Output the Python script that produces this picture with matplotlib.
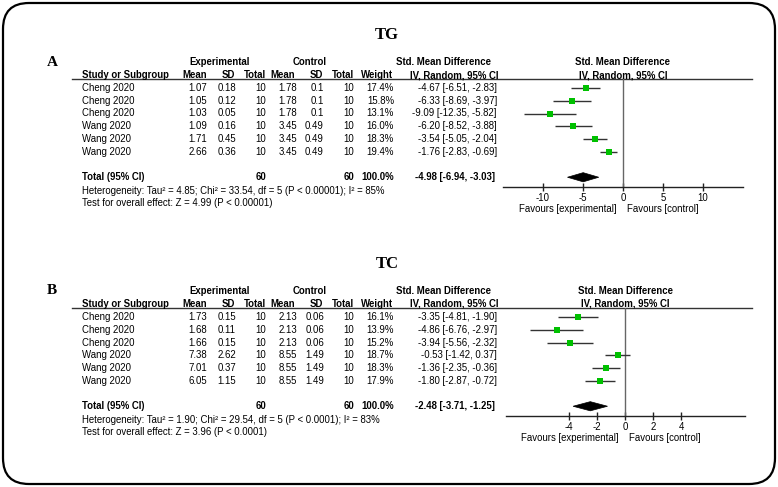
import numpy as np
import matplotlib.pyplot as plt
from matplotlib.patches import FancyBboxPatch, Polygon

# ---- data, panel A (TG) ----
studies = ["Cheng 2020", "Cheng 2020", "Cheng 2020", "Wang 2020", "Wang 2020", "Wang 2020"]
n_exp = [10, 10, 10, 10, 10, 10]
n_ctl = [10, 10, 10, 10, 10, 10]

tg_exp_mean = [1.07, 1.05, 1.03, 1.09, 1.71, 2.66]
tg_exp_sd = [0.18, 0.12, 0.05, 0.16, 0.45, 0.36]
tg_ctl_mean = [1.78, 1.78, 1.78, 3.45, 3.45, 3.45]
tg_ctl_sd = [0.1, 0.1, 0.1, 0.49, 0.49, 0.49]
tg_weight = [17.4, 15.8, 13.1, 16.0, 18.3, 19.4]
tg_smd = [-4.67, -6.33, -9.09, -6.20, -3.54, -1.76]
tg_lo = [-6.51, -8.69, -12.35, -8.52, -5.05, -2.83]
tg_hi = [-2.83, -3.97, -5.82, -3.88, -2.04, -0.69]
tg_total = [-4.98, -6.94, -3.03]
tg_het = "Heterogeneity: Tau² = 4.85; Chi² = 33.54, df = 5 (P < 0.00001); I² = 85%"
tg_test = "Test for overall effect: Z = 4.99 (P < 0.00001)"
tg_ticks = [-10, -5, 0, 5, 10]

# ---- data, panel B (TC) ----
tc_exp_mean = [1.73, 1.68, 1.66, 7.38, 7.01, 6.05]
tc_exp_sd = [0.15, 0.11, 0.15, 2.62, 0.37, 1.15]
tc_ctl_mean = [2.13, 2.13, 2.13, 8.55, 8.55, 8.55]
tc_ctl_sd = [0.06, 0.06, 0.06, 1.49, 1.49, 1.49]
tc_weight = [16.1, 13.9, 15.2, 18.7, 18.3, 17.9]
tc_smd = [-3.35, -4.86, -3.94, -0.53, -1.36, -1.80]
tc_lo = [-4.81, -6.76, -5.56, -1.42, -2.35, -2.87]
tc_hi = [-1.90, -2.97, -2.32, 0.37, -0.36, -0.72]
tc_total = [-2.48, -3.71, -1.25]
tc_het = "Heterogeneity: Tau² = 1.90; Chi² = 29.54, df = 5 (P < 0.0001); I² = 83%"
tc_test = "Test for overall effect: Z = 3.96 (P < 0.0001)"
tc_ticks = [-4, -2, 0, 2, 4]

total_weight = "100.0%"

W, H = 778, 487
fig = plt.figure(figsize=(W / 100, H / 100), dpi=100)
ax = fig.add_axes([0, 0, 1, 1])
ax.set_xlim(0, W)
ax.set_ylim(H, 0)
ax.axis("off")

SANS = "Liberation Sans"
SERIF = "Liberation Serif"
FS = 6.9
TXT = "black"
GREEN = "#00c000"

ax.add_patch(FancyBboxPatch((3, 3), W - 6, H - 6,
                            boxstyle="round,pad=0,rounding_size=26",
                            fc="white", ec="black", lw=1.6))

sp = 12.75  # row spacing in px


def t(x, y, s, ha="left", bold=False, fs=FS, family=SANS):
    ax.text(x, y, s, ha=ha, va="center", fontsize=fs, family=family,
            fontweight="bold" if bold else "normal", color=TXT)


def panel(row0, title, letter, emean, esd, cmean, csd, wt, smd, lo, hi, tot,
          het, test, ticks, xlim, fx0, fx1):
    # titles
    t(387, row0 - 53, title, ha="center", bold=True, fs=12, family=SERIF)
    t(47, row0 - 26, letter, bold=True, fs=11, family=SERIF)

    # forest axes geometry
    zero_px = fx0 + (0 - xlim[0]) / (xlim[1] - xlim[0]) * (fx1 - fx0)
    top_px = row0 - 9
    axis_px = row0 + 99

    # header
    t(220, row0 - 26, "Experimental", ha="center", bold=True)
    t(310, row0 - 26, "Control", ha="center", bold=True)
    t(444, row0 - 26, "Std. Mean Difference", ha="center", bold=True)
    t(zero_px, row0 - 26, "Std. Mean Difference", ha="center", bold=True)
    hy = row0 - 13
    t(82, hy, "Study or Subgroup", bold=True)
    for x, s in zip([207, 235, 266, 295, 323, 354, 393],
                    ["Mean", "SD", "Total", "Mean", "SD", "Total", "Weight"]):
        t(x, hy, s, ha="right", bold=True)
    t(499, hy, "IV, Random, 95% CI", ha="right", bold=True)
    t(zero_px, hy, "IV, Random, 95% CI", ha="center", bold=True)
    ax.plot([72, 752], [top_px, top_px], color="#333333", lw=1.0)

    # rows
    for i in range(len(studies)):
        y = row0 + i * sp
        t(82, y, studies[i])
        t(207, y, f"{emean[i]:.2f}", ha="right")
        t(236, y, f"{esd[i]:g}", ha="right")
        t(266, y, f"{n_exp[i]}", ha="right")
        t(297, y, f"{cmean[i]:.2f}", ha="right")
        t(324, y, f"{csd[i]:g}", ha="right")
        t(354, y, f"{n_ctl[i]}", ha="right")
        t(394, y, f"{wt[i]:.1f}%", ha="right")
        t(497, y, f"{smd[i]:.2f} [{lo[i]:.2f}, {hi[i]:.2f}]", ha="right")

    ty = row0 + 7 * sp
    t(82, ty, "Total (95% CI)", bold=True)
    t(266, ty, f"{sum(n_exp)}", ha="right", bold=True)
    t(354, ty, f"{sum(n_ctl)}", ha="right", bold=True)
    t(394, ty, total_weight, ha="right", bold=True)
    t(495, ty, f"{tot[0]:.2f} [{tot[1]:.2f}, {tot[2]:.2f}]", ha="right", bold=True)
    t(82, row0 + 103, het)
    t(82, row0 + 115, test)

    # forest plot
    fa = fig.add_axes([fx0 / W, 1 - axis_px / H, (fx1 - fx0) / W, (axis_px - top_px) / H])
    fa.patch.set_alpha(0)
    fa.set_xlim(*xlim)
    fa.set_ylim((axis_px - row0) / sp, (top_px - row0) / sp)
    for s in ["top", "left", "right"]:
        fa.spines[s].set_visible(False)
    fa.spines["bottom"].set_linewidth(1.0)
    fa.spines["bottom"].set_color("#222222")
    fa.set_yticks([])
    fa.set_xticks(ticks)
    fa.set_xticklabels([f"{v:g}" for v in ticks], fontsize=FS, family=SANS, color=TXT)
    fa.tick_params(axis="x", direction="inout", length=6, width=1.0, pad=1.5, color="#222222")
    fa.axvline(0, color="#666666", lw=1.0)
    rows = np.arange(len(studies))
    fa.hlines(rows, lo, hi, color="#333333", lw=1.0)
    fa.plot(smd, rows, "s", color=GREEN, ms=3.8, mew=0, zorder=3)
    hh = 0.36
    fa.add_patch(Polygon([[tot[1], 7], [tot[0], 7 - hh], [tot[2], 7], [tot[0], 7 + hh]],
                         closed=True, fc="black", ec="black", lw=0.5))

    t(zero_px - 6, row0 + 121, "Favours [experimental]", ha="right")
    t(zero_px + 4, row0 + 121, "Favours [control]")


panel(88, "TG", "A", tg_exp_mean, tg_exp_sd, tg_ctl_mean, tg_ctl_sd, tg_weight,
      tg_smd, tg_lo, tg_hi, tg_total, tg_het, tg_test, tg_ticks, (-15, 15), 503, 743)
panel(317, "TC", "B", tc_exp_mean, tc_exp_sd, tc_ctl_mean, tc_ctl_sd, tc_weight,
      tc_smd, tc_lo, tc_hi, tc_total, tc_het, tc_test, tc_ticks, (-8.5, 8.57), 506, 745)

fig.savefig("out.png", dpi=100)
